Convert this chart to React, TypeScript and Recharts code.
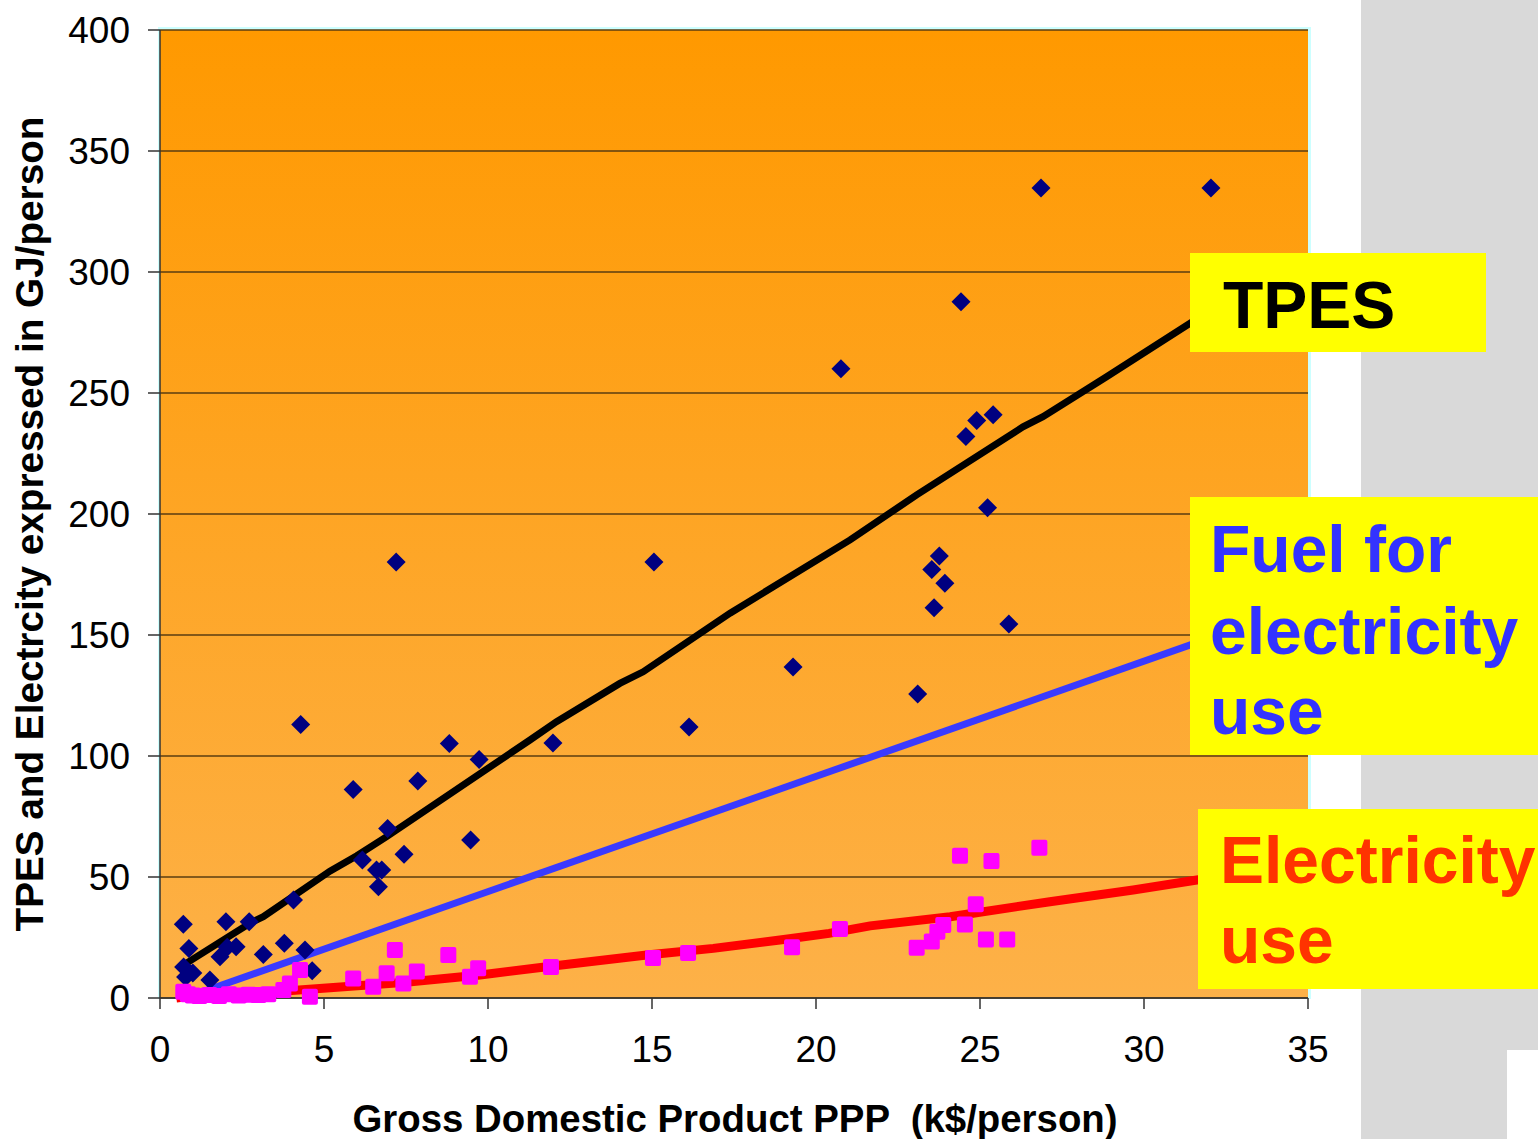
import React from "react"
import {
  ComposedChart, Scatter, Line, XAxis, YAxis, CartesianGrid,
} from "recharts"

// TPES per country (GDP k$/person, GJ/person)
const tpesPoints = [
  [0.71, 30.5], [0.88, 20.5], [0.72, 12.8], [1.0, 10.3], [0.78, 8.7], [1.52, 7.4],
  [2.01, 31.5], [1.83, 17], [2.05, 21], [2.32, 21.2], [2.72, 31.5], [3.15, 18],
  [3.79, 22.6], [4.07, 40.5], [4.29, 113], [4.42, 19.8], [4.64, 11.3], [5.89, 86.2],
  [6.17, 57], [6.6, 52.9], [6.76, 52.9], [6.66, 46], [6.94, 70], [7.2, 180.2],
  [7.44, 59.4], [7.86, 89.7], [8.82, 105.2], [9.47, 65.3], [9.73, 98.6], [11.98, 105.4],
  [15.06, 180.2], [16.13, 112], [19.3, 136.8], [20.76, 260], [23.1, 125.6], [23.53, 177.1],
  [23.6, 161.3], [23.76, 182.6], [23.93, 171.4], [24.42, 287.7], [24.57, 232], [24.9, 238.6],
  [25.23, 202.6], [25.4, 241], [25.88, 154.5], [26.86, 334.7], [32.04, 334.7],
]

// electricity use per country
const elecPoints = [
  [0.71, 2.6], [0.85, 1.5], [1.0, 1.0], [1.2, 0.8], [1.5, 1.2], [1.8, 0.8], [2.1, 1.5],
  [2.4, 1.0], [2.7, 1.3], [3.0, 1.2], [3.3, 1.5], [3.76, 3.3], [3.96, 6], [4.27, 11.6],
  [4.57, 0.5], [5.89, 8.1], [6.5, 4.7], [6.91, 10.2], [7.16, 19.8], [7.42, 6], [7.83, 10.9],
  [8.79, 17.8], [9.45, 8.8], [9.7, 12.3], [11.92, 12.8], [15.03, 16.5], [16.1, 18.6],
  [19.27, 21], [20.73, 28.5], [23.07, 20.8], [23.53, 23.3], [23.7, 27.4], [23.88, 30.2],
  [24.39, 58.8], [24.54, 30.4], [24.87, 38.7], [25.18, 24.2], [25.35, 56.6], [25.83, 24.2],
  [26.81, 62.1],
]

// fitted curves
const tpesFit = [
  [0.71, 13.6], [2.74, 30.9], [3.15, 33.6], [5.18, 52.4], [6.0, 58.8], [6.91, 66.7],
  [10.37, 98.3], [11.28, 106.6], [12.09, 114.2], [14.02, 130], [14.73, 134.8], [17.38, 159],
  [21.04, 189.3], [23.07, 207.9], [26.31, 236], [26.92, 240.2], [28.86, 256.7], [32, 284],
]
const fuelFit = [[0.76, 0], [32, 148.7]]
const elecFit = [
  [0.5, 0], [1.22, 1.2], [2.84, 1.9], [4.97, 4], [7.5, 6.5], [9.76, 9.5], [11.79, 12.9],
  [14.84, 17.8], [16.87, 20.5], [18.9, 24], [20.4, 26.7], [21.65, 29.8], [24.09, 33.6],
  [27.13, 39.8], [29.67, 44.6], [32, 49.6],
]

const xTicks = [0, 5, 10, 15, 20, 25, 30, 35]
const yTicks = [0, 50, 100, 150, 200, 250, 300, 350, 400]

const toXY = (arr: number[][]) => arr.map(([x, y]) => ({ x, y }))

const font = "'Liberation Sans', Arial, sans-serif"

const Diamond = (p: any) => {
  const { cx, cy } = p
  const r = 9.5
  return <path d={`M${cx},${cy - r}L${cx + r},${cy}L${cx},${cy + r}L${cx - r},${cy}Z`} fill="#000080" />
}

const Square = (p: any) => {
  const { cx, cy } = p
  return <rect x={cx - 8} y={cy - 8} width={16} height={16} rx={2} fill="#FF00FF" />
}

export default function App() {
  return (
    <div style={{ position: "absolute", left: 0, top: 0, width: 1538, height: 1139, background: "#fff", overflow: "hidden" }}>
      {/* slide background bits */}
      <div style={{ position: "absolute", left: 1361, top: 0, width: 177, height: 1139, background: "#D9D9D9" }} />
      <div style={{ position: "absolute", left: 1507, top: 1050, width: 31, height: 89, background: "#fff" }} />
      <div style={{ position: "absolute", left: 158, top: 27, width: 1153, height: 972, background: "#CCFFFF" }} />

      <div style={{ position: "absolute", left: 0, top: 0 }}>
        <ComposedChart width={1538} height={1139} margin={{ top: 30, right: 230, bottom: 0, left: 60 }}>
          <defs>
            <linearGradient id="plotBg" x1="0" y1="0" x2="0" y2="1">
              <stop offset="0%" stopColor="#FF9900" />
              <stop offset="100%" stopColor="#FDB148" />
            </linearGradient>
          </defs>
          <CartesianGrid vertical={false} stroke="#5a3c10" strokeWidth={1.5} fill="url(#plotBg)" fillOpacity={1} />
          <XAxis
            type="number"
            dataKey="x"
            domain={[0, 35]}
            ticks={xTicks}
            height={141}
            tickSize={11}
            tickMargin={27}
            axisLine={{ stroke: "#333", strokeWidth: 1.5 }}
            tickLine={{ stroke: "#333", strokeWidth: 1.5 }}
            tick={{ fill: "#000", fontSize: 37, fontFamily: font }}
          />
          <YAxis
            type="number"
            dataKey="y"
            domain={[0, 400]}
            ticks={yTicks}
            width={100}
            tickSize={12}
            tickMargin={18}
            axisLine={{ stroke: "#333", strokeWidth: 1.5 }}
            tickLine={{ stroke: "#333", strokeWidth: 1.5 }}
            tick={{ fill: "#000", fontSize: 37, fontFamily: font }}
          />
          <Scatter data={toXY(tpesPoints)} dataKey="y" shape={Diamond} isAnimationActive={false} />
          <Scatter data={toXY(elecPoints)} dataKey="y" shape={Square} isAnimationActive={false} />
          <Line data={toXY(fuelFit)} dataKey="y" type="linear" stroke="#3A3AFF" strokeWidth={7} dot={false} activeDot={false} isAnimationActive={false} />
          <Line data={toXY(elecFit)} dataKey="y" type="linear" stroke="#FF0000" strokeWidth={9} dot={false} activeDot={false} isAnimationActive={false} />
          <Line data={toXY(tpesFit)} dataKey="y" type="linear" stroke="#000" strokeWidth={7} dot={false} activeDot={false} isAnimationActive={false} />
        </ComposedChart>
      </div>

      <svg width={1538} height={1139} style={{ position: "absolute", left: 0, top: 0 }}>
        <text transform="translate(43,524) rotate(-90)" textAnchor="middle" fontSize={38.7} fontWeight="bold" fontFamily={font} fill="#000">
          TPES and Electrcity expressed in GJ/person
        </text>
        <text x={735} y={1132} textAnchor="middle" fontSize={38.4} fontWeight="bold" fontFamily={font} fill="#000" xmlSpace="preserve" style={{ whiteSpace: "pre" }}>
          {"Gross Domestic Product PPP  (k$/person)"}
        </text>

        <rect x={1190} y={253} width={296} height={99} fill="#FFFF00" />
        <text x={1223} y={328} fontSize={66} fontWeight="bold" fontFamily={font} fill="#000">TPES</text>

        <rect x={1190} y={497} width={348} height={258} fill="#FFFF00" />
        <text x={1210} y={572} fontSize={66} fontWeight="bold" fontFamily={font} fill="#3333FF">Fuel for</text>
        <text x={1210} y={654} fontSize={66} fontWeight="bold" fontFamily={font} fill="#3333FF">electricity</text>
        <text x={1210} y={734} fontSize={66} fontWeight="bold" fontFamily={font} fill="#3333FF">use</text>

        <rect x={1198} y={809} width={340} height={180} fill="#FFFF00" />
        <text x={1220} y={883} fontSize={66} fontWeight="bold" fontFamily={font} fill="#FF3300">Electricity</text>
        <text x={1220} y={963} fontSize={66} fontWeight="bold" fontFamily={font} fill="#FF3300">use</text>
      </svg>
    </div>
  )
}
